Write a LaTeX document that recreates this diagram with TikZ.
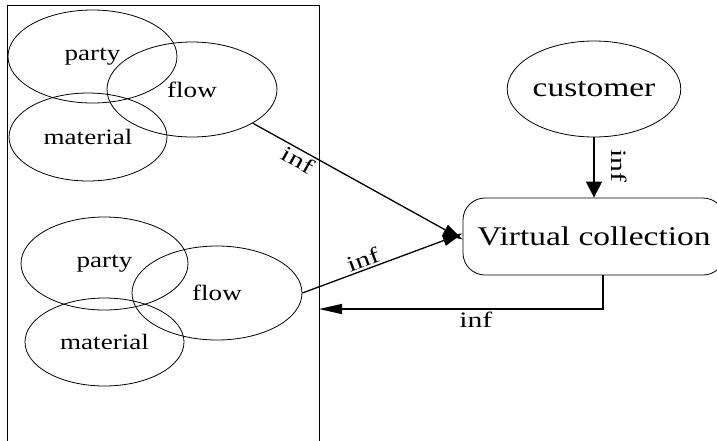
\documentclass[tikz,border=0pt]{standalone}
\usepackage{fontspec}
\setmainfont{Liberation Serif}
\usepackage{graphicx}
\usetikzlibrary{shapes.geometric,arrows.meta}
\newcommand{\smalltxt}[1]{\scalebox{1.23}[1]{\fontsize{22}{24}\selectfont #1}}
\newcommand{\bigtxt}[1]{\scalebox{1.24}[1]{\fontsize{27}{30}\selectfont #1}}
\newcommand{\lbltxt}[1]{\scalebox{1.35}[1]{\fontsize{22}{24}\selectfont #1}}
\tikzset{
  ell/.style={draw, ellipse, line width=0.8pt, inner sep=0pt},
  edgeline/.style={line width=1.3pt},
  tipa/.style={-{Triangle[length=20pt,width=11pt]}},
  tipv/.style={-{Triangle[length=16pt,width=16pt]}},
  tiph/.style={-{Triangle[length=23pt,width=10pt]}},
  lbl/.style={inner sep=2pt}
}
\begin{document}
\begin{tikzpicture}[x=1pt,y=-1pt]
\clip (0,0) rectangle (717,440);
\fill[white] (0,0) rectangle (717,440);
% cluster box
\node[draw, line width=0.8pt, anchor=north west, minimum width=312pt, minimum height=460pt, inner sep=0pt, outer sep=0pt] (cluster) at (7,5) {};
% top group
\node[ell, minimum width=169pt, minimum height=93pt] (party1) at (92.5,56.5) {\smalltxt{party}};
\node[ell, minimum width=170pt, minimum height=95pt] (flow1) at (192,89.5) {\smalltxt{flow}};
\node[ell, minimum width=158pt, minimum height=88pt] (material1) at (88,137) {\smalltxt{material}};
% bottom group
\node[ell, minimum width=167pt, minimum height=93pt] (party2) at (104.5,263.5) {\smalltxt{party}};
\node[ell, minimum width=170pt, minimum height=94pt] (flow2) at (217,293) {\smalltxt{flow}};
\node[ell, minimum width=159pt, minimum height=88pt] (material2) at (104.5,342) {\smalltxt{material}};
% customer
\node[ell, minimum width=172pt, minimum height=96pt] (customer) at (594,89) {\bigtxt{customer}};
% virtual collection
\node[draw, line width=0.8pt, rounded corners=22pt, minimum width=262pt, minimum height=77pt, inner sep=0pt] (vc) at (594,236.5) {\bigtxt{Virtual collection}};
\coordinate (vcin1) at ([yshift=-3pt]vc.west);
\coordinate (vcin2) at ([yshift=3pt]vc.west);
\coordinate (vcout) at ([xshift=9pt]vc.south);
\coordinate (back) at (cluster.east |- 0,309);
% edges
\draw[edgeline, tipa] (flow1) -- (vcin1) node[lbl, pos=0.24, below, sloped] {\lbltxt{inf}};
\draw[edgeline, tipa] (flow2.east) -- (vcin2) node[lbl, pos=0.4, above, sloped] {\lbltxt{inf}};
\draw[edgeline, tipv] (customer) -- (vc);
\node[lbl, rotate=-90] (custlbl) at (619,166) {\lbltxt{inf}};
\draw[edgeline, tiph] (vcout) |- (back) node[lbl, pos=0.724, below] {\lbltxt{inf}};
\end{tikzpicture}
\end{document}
